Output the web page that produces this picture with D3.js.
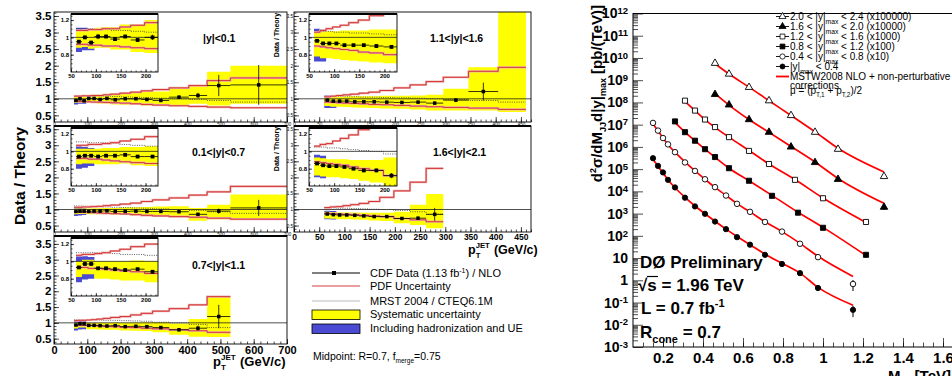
<!DOCTYPE html>
<html>
<head>
<meta charset="utf-8">
<script src="https://cdn.jsdelivr.net/npm/d3@7"></script>
<style>
  body { margin: 0; background: #fff; }
  svg { display: block; font-family: "Liberation Sans", Arial, Helvetica, sans-serif; }
</style>
</head>
<body>
<svg id="chart" width="952" height="376"></svg>
<script>
// ---------- CDF data / theory (bin edges in pT, GeV/c) ----------
const ptEdges = [60, 72, 84, 97, 112, 129, 148, 170, 198, 230, 262, 296, 346, 405, 460, 530, 700];

// |y|<0.1
const y01Val   = [0.95, 1.00, 0.94, 1.01, 1.01, 0.98, 1.01, 0.97, 1.00, 1.00, 0.98, 0.95, 1.05, 1.10, 1.40, 1.42];
const y01Err   = [0.02, 0.02, 0.02, 0.03, 0.02, 0.02, 0.02, 0.02, 0.03, 0.02, 0.02, 0.03, 0.04, 0.08, 0.32, 0.60];
const y01SysHi = [1.08, 1.09, 1.09, 1.11, 1.12, 1.12, 1.15, 1.15, 1.20, 1.20, 1.22, 1.22, 1.30, 1.42, 1.82, 2.00];
const y01SysLo = [0.88, 0.89, 0.87, 0.88, 0.88, 0.86, 0.86, 0.83, 0.82, 0.82, 0.80, 0.78, 0.80, 0.85, 0.80, 0.85];
const y01HadHi = [1.11, 1.11, 1.10];
const y01HadLo = [0.83, 0.85, 0.85];
const y01PdfHi = [1.08, 1.08, 1.09, 1.09, 1.10, 1.10, 1.12, 1.14, 1.17, 1.20, 1.24, 1.28, 1.33, 1.40, 1.55, 1.63];
const y01PdfLo = [0.92, 0.92, 0.91, 0.91, 0.90, 0.90, 0.89, 0.88, 0.87, 0.85, 0.83, 0.81, 0.79, 0.77, 0.75, 0.73];
const y01Mrst  = [1.10, 1.10, 1.10, 1.09, 1.09, 1.08, 1.08, 1.07, 1.06, 1.05, 1.04, 1.02, 1.00, 0.98, 0.95, 0.90];

// 0.1<|y|<0.7
const y07Val   = [0.94, 0.95, 0.95, 0.94, 0.95, 0.95, 0.96, 0.94, 0.94, 0.95, 0.94, 0.94, 0.93, 0.85, 0.95, 1.05];
const y07Err   = [0.01, 0.01, 0.01, 0.01, 0.01, 0.01, 0.01, 0.01, 0.01, 0.01, 0.02, 0.02, 0.03, 0.04, 0.08, 0.25];
const y07SysHi = [1.03, 1.03, 1.03, 1.03, 1.04, 1.04, 1.05, 1.05, 1.06, 1.07, 1.08, 1.09, 1.10, 1.05, 1.15, 1.47];
const y07SysLo = [0.85, 0.86, 0.86, 0.85, 0.85, 0.85, 0.86, 0.84, 0.83, 0.82, 0.80, 0.79, 0.77, 0.65, 0.70, 0.68];
const y07HadHi = [1.06, 1.05, 1.04];
const y07HadLo = [0.80, 0.81, 0.83];
const y07PdfHi = [1.07, 1.07, 1.08, 1.08, 1.09, 1.10, 1.12, 1.14, 1.17, 1.20, 1.25, 1.30, 1.36, 1.45, 1.55, 1.72];
const y07PdfLo = [0.92, 0.92, 0.91, 0.91, 0.90, 0.89, 0.88, 0.87, 0.86, 0.84, 0.82, 0.80, 0.78, 0.76, 0.73, 0.70];
const y07Mrst  = [1.11, 1.11, 1.10, 1.10, 1.10, 1.09, 1.08, 1.07, 1.06, 1.05, 1.04, 1.02, 1.00, 0.97, 0.93, 0.88];

// 0.7<|y|<1.1
const y11Val   = [0.93, 0.97, 0.97, 0.92, 0.92, 0.91, 0.90, 0.91, 0.88, 0.89, 0.88, 0.85, 0.78, 0.83, 1.20];
const y11Err   = [0.01, 0.01, 0.01, 0.01, 0.01, 0.01, 0.01, 0.01, 0.02, 0.02, 0.02, 0.03, 0.04, 0.08, 0.37];
const y11SysHi = [1.00, 1.02, 1.02, 1.00, 1.00, 1.00, 1.00, 1.01, 1.00, 1.01, 1.02, 1.02, 0.98, 1.12, 1.85];
const y11SysLo = [0.82, 0.85, 0.85, 0.80, 0.80, 0.79, 0.78, 0.78, 0.76, 0.75, 0.74, 0.70, 0.62, 0.56, 0.55];
const y11HadHi = [1.06, 1.06, 1.05];
const y11HadLo = [0.76, 0.79, 0.80];
const y11PdfHi = [1.07, 1.08, 1.08, 1.09, 1.10, 1.12, 1.14, 1.17, 1.20, 1.25, 1.30, 1.37, 1.45, 1.57, 1.83];
const y11PdfLo = [0.93, 0.93, 0.92, 0.92, 0.91, 0.90, 0.89, 0.88, 0.86, 0.85, 0.83, 0.81, 0.78, 0.75, 0.70];
const y11Mrst  = [1.10, 1.10, 1.10, 1.10, 1.10, 1.09, 1.08, 1.08, 1.07, 1.06, 1.05, 1.02, 1.00, 0.95, 0.85];

// 1.1<|y|<1.6  (last bin has no visible point)
const y16Val   = [0.96, 0.93, 0.93, 0.93, 0.91, 0.91, 0.91, 0.90, 0.89, 0.90, 0.87, 0.96, 1.22];
const y16Err   = [0.01, 0.01, 0.01, 0.01, 0.01, 0.01, 0.01, 0.02, 0.02, 0.02, 0.04, 0.06, 0.27];
const y16SysHi = [1.07, 1.07, 1.07, 1.07, 1.08, 1.08, 1.08, 1.09, 1.09, 1.10, 1.12, 1.30, 1.95, 4.00];
const y16SysLo = [0.78, 0.76, 0.76, 0.75, 0.74, 0.73, 0.72, 0.71, 0.70, 0.68, 0.65, 0.65, 0.65, 0.60];
const y16HadHi = [1.10, 1.09];
const y16HadLo = [0.72, 0.72];
const y16PdfHi = [1.06, 1.08, 1.10, 1.12, 1.14, 1.17, 1.20, 1.25, 1.33, 1.42, 1.52, 1.65, 1.83, 1.95];
const y16PdfLo = [0.90, 0.89, 0.88, 0.87, 0.86, 0.85, 0.83, 0.82, 0.80, 0.78, 0.76, 0.74, 0.72, 0.68];
const y16Mrst  = [1.07, 1.07, 1.07, 1.06, 1.06, 1.05, 1.05, 1.04, 1.03, 1.02, 1.00, 0.98, 0.95, 0.90];

// 1.6<|y|<2.1
const y21Val   = [0.86, 0.84, 0.83, 0.83, 0.82, 0.80, 0.78, 0.78, 0.72, 0.73, 0.85];
const y21Err   = [0.01, 0.01, 0.01, 0.01, 0.01, 0.01, 0.02, 0.02, 0.03, 0.05, 0.20];
const y21SysHi = [0.93, 0.92, 0.91, 0.91, 0.91, 0.90, 0.90, 0.90, 0.93, 1.15, 1.48];
const y21SysLo = [0.72, 0.71, 0.70, 0.70, 0.69, 0.68, 0.66, 0.64, 0.57, 0.52, 0.42];
const y21HadHi = [0.96, 0.95];
const y21HadLo = [0.70, 0.69];
const y21PdfHi = [1.06, 1.08, 1.09, 1.12, 1.15, 1.19, 1.25, 1.38, 1.58, 1.85, 2.28];
const y21PdfLo = [0.88, 0.87, 0.86, 0.85, 0.84, 0.82, 0.80, 0.78, 0.72, 0.68, 0.62];
const y21Mrst  = [1.05, 1.05, 1.04, 1.04, 1.03, 1.02, 1.01, 1.00, 0.97, 0.93, 0.85];

// ---------- D0 dijet mass spectrum (M_JJ in TeV, pb/TeV, scaled as plotted) ----------
const mjjLow  = [0.150, 0.175, 0.200, 0.225, 0.260, 0.310, 0.360, 0.410, 0.460, 0.515, 0.570, 0.635, 0.710, 0.795, 0.885, 0.975, 1.150];
const sigY04  = [3.1e5, 1.4e5, 7.1e4, 3.3e4, 1.5e4, 5.2e3, 2.1e3, 9.8e2, 4.4e2, 2.0e2, 8.7e1, 4.0e1, 1.4e1, 5.4, 2.1, 0.45, 0.047];
const nloY04  = [2.8e5, 1.35e5, 6.8e4, 3.3e4, 1.45e4, 5.4e3, 2.2e3, 9.8e2, 4.5e2, 2.0e2, 9.3e1, 4.0e1, 1.5e1, 5.8, 2.1, 0.48, 0.076];
const sigY08  = [1.2e7, 5.4e6, 2.5e6, 1.3e6, 5.8e5, 2.0e5, 8.3e4, 3.5e4, 1.55e4, 6.5e3, 2.75e3, 1.2e3, 4.2e2, 1.55e2, 4.4e1, 1.1e1, 0.68];
const nloY08  = [1.1e7, 5.2e6, 2.5e6, 1.26e6, 5.8e5, 2.1e5, 8.3e4, 3.5e4, 1.5e4, 6.6e3, 2.8e3, 1.2e3, 4.3e2, 1.55e2, 4.6e1, 1.2e1, 1.5];
const mjjMid  = [0.260, 0.310, 0.360, 0.410, 0.460, 0.530, 0.630, 0.745, 0.875, 1.000, 1.215];
const sigY12  = [1.4e7, 4.6e6, 1.9e6, 7.9e5, 3.5e5, 1.1e5, 3.0e4, 6.3e3, 1.1e3, 2.3e2, 1.4e1];
const nloY12  = [1.26e7, 4.6e6, 1.9e6, 7.9e5, 3.4e5, 1.1e5, 3.0e4, 6.6e3, 1.15e3, 2.4e2, 1.3e1];
const mjjY16  = [0.310, 0.360, 0.410, 0.460, 0.530, 0.630, 0.730, 0.860, 1.000, 1.215];
const sigY16  = [1.2e8, 4.3e7, 1.7e7, 7.8e6, 2.75e6, 6.6e5, 1.7e5, 3.3e4, 4.9e3, 4.2e2];
const nloY16  = [1.1e8, 4.3e7, 1.7e7, 7.6e6, 2.75e6, 6.9e5, 1.7e5, 3.4e4, 5.0e3, 4.0e2];
const mjjHigh = [0.460, 0.530, 0.630, 0.730, 0.840, 0.960, 1.075, 1.305];
const sigY20  = [2.3e8, 7.8e7, 1.7e7, 4.6e6, 1.0e6, 2.0e5, 3.5e4, 1.95e3];
const nloY20  = [2.5e8, 7.6e7, 1.7e7, 4.5e6, 1.05e6, 2.1e5, 3.8e4, 2.9e3];
const sigY24  = [5.8e9, 1.9e9, 4.8e8, 1.2e8, 2.6e7, 4.6e6, 7.9e5, 4.7e4];
const nloY24  = [5.5e9, 1.9e9, 4.9e8, 1.2e8, 2.6e7, 4.8e6, 8.7e5, 7.5e4];
// error on the last point of each series, same order as the legend (2.0-2.4 first)
const d0LastErr = [4000, 500, 20, 3, 0.35, 0.025];

const d0LegendPre  = ['2.0 < |y|', '1.6 < |y|', '1.2 < |y|', '0.8 < |y|', '0.4 < |y|', '|y|'];
const d0LegendPost = [' < 2.4 (x100000)', ' < 2.0 (x10000)', ' < 1.6 (x1000)', ' < 1.2 (x100)', ' < 0.8 (x10)', ' < 0.4'];

// ---------- drawing ----------
const svg = d3.select('#chart');
const YELLOW = '#ffff00', BLUE = '#4a4ad2', RED = '#d02828', PINK = '#eeb0b0';

function styleAxis(sel, size, bold) {
  sel.select('.domain').remove();
  sel.attr('font-family', null).attr('font-size', null);
  sel.selectAll('.tick line').attr('stroke', '#000').attr('stroke-width', 0.7);
  sel.selectAll('.tick text').attr('font-size', size).attr('font-weight', bold ? 'bold' : 'normal').attr('fill', '#000');
}

function stepPts(vals) {
  return vals.map((v, i) => [ptEdges[i], v]).concat([[ptEdges[vals.length], vals[vals.length - 1]]]);
}
function bandPts(hi, lo) {
  return hi.map((h, i) => [ptEdges[i], lo[i], h]).concat([[ptEdges[hi.length], lo[hi.length - 1], hi[hi.length - 1]]]);
}

function drawHist(g, x, y, p, xr, ms) {
  const area = d3.area().x(d => x(d[0])).y0(d => y(d[1])).y1(d => y(d[2])).curve(d3.curveStepAfter);
  const line = d3.line().x(d => x(d[0])).y(d => y(d[1])).curve(d3.curveStepAfter);

  g.append('path').attr('d', area(bandPts(p.hadHi, p.hadLo))).attr('fill', BLUE);
  g.append('path').attr('d', area(bandPts(p.sysHi, p.sysLo))).attr('fill', YELLOW);

  g.append('line')
    .attr('x1', xr[0]).attr('x2', xr[1]).attr('y1', y(1)).attr('y2', y(1))
    .attr('stroke', '#222').attr('stroke-width', 0.8);

  g.append('path').attr('d', line(stepPts(p.mrst)))
    .attr('fill', 'none').attr('stroke', '#333').attr('stroke-width', 0.8).attr('stroke-dasharray', '1,1.3');

  [p.pdfHi, p.pdfLo].forEach(arr => {
    g.append('path').attr('d', line(stepPts(arr))).attr('fill', 'none').attr('stroke', PINK).attr('stroke-width', 2.2);
    g.append('path').attr('d', line(stepPts(arr))).attr('fill', 'none').attr('stroke', RED).attr('stroke-width', 0.9);
  });

  const pts = p.val.map((v, i) => ({ lo: ptEdges[i], hi: ptEdges[i + 1], v, e: p.err[i] }));
  const pg = g.append('g').selectAll('g').data(pts).join('g');
  pg.append('line')
    .attr('x1', d => x(d.lo)).attr('x2', d => x(d.hi))
    .attr('y1', d => y(d.v)).attr('y2', d => y(d.v))
    .attr('stroke', '#000').attr('stroke-width', 0.8);
  pg.append('line')
    .attr('x1', d => x((d.lo + d.hi) / 2)).attr('x2', d => x((d.lo + d.hi) / 2))
    .attr('y1', d => y(d.v - d.e)).attr('y2', d => y(d.v + d.e))
    .attr('stroke', '#000').attr('stroke-width', 0.8);
  pg.append('rect')
    .attr('x', d => x((d.lo + d.hi) / 2) - ms / 2).attr('y', d => y(d.v) - ms / 2)
    .attr('width', ms).attr('height', ms).attr('fill', '#000');
}

const cdfPanels = [
  { label: '|y|<0.1', lx: 203, ly: 42, frame: [54, 287, 12, 122], yDom: [0.3, 3.62], xDom: [0, 700], inset: [71, 158, 14, 72],
    val: y01Val, err: y01Err, sysHi: y01SysHi, sysLo: y01SysLo, hadHi: y01HadHi, hadLo: y01HadLo, pdfHi: y01PdfHi, pdfLo: y01PdfLo, mrst: y01Mrst, col: 'L', bottom: 'tiny' },
  { label: '0.1<|y|<0.7', lx: 192, ly: 156, frame: [54, 287, 126, 232], yDom: [0.3, 3.6], xDom: [0, 700], inset: [71, 158, 128, 186],
    val: y07Val, err: y07Err, sysHi: y07SysHi, sysLo: y07SysLo, hadHi: y07HadHi, hadLo: y07HadLo, pdfHi: y07PdfHi, pdfLo: y07PdfLo, mrst: y07Mrst, col: 'L', bottom: 'tiny' },
  { label: '0.7<|y|<1.1', lx: 192, ly: 269, frame: [54, 287, 236, 344], yDom: [0.33, 3.75], xDom: [0, 700], inset: [71, 158, 238, 296],
    val: y11Val, err: y11Err, sysHi: y11SysHi, sysLo: y11SysLo, hadHi: y11HadHi, hadLo: y11HadLo, pdfHi: y11PdfHi, pdfLo: y11PdfLo, mrst: y11Mrst, col: 'L', bottom: 'big' },
  { label: '1.1<|y|<1.6', lx: 430, ly: 42, frame: [294, 531, 12, 122], yDom: [0.3, 3.62], xDom: [0, 470], inset: [309, 397, 14, 72],
    val: y16Val, err: y16Err, sysHi: y16SysHi, sysLo: y16SysLo, hadHi: y16HadHi, hadLo: y16HadLo, pdfHi: y16PdfHi, pdfLo: y16PdfLo, mrst: y16Mrst, col: 'R', bottom: 'tiny' },
  { label: '1.6<|y|<2.1', lx: 433, ly: 156, frame: [294, 531, 126, 232], yDom: [0.3, 3.6], xDom: [0, 470], inset: [309, 397, 128, 186],
    val: y21Val, err: y21Err, sysHi: y21SysHi, sysLo: y21SysLo, hadHi: y21HadHi, hadLo: y21HadLo, pdfHi: y21PdfHi, pdfLo: y21PdfLo, mrst: y21Mrst, col: 'R', bottom: 'mid' }
];

const fmt = d3.format('~g');

cdfPanels.forEach((p, k) => {
  const [x0, x1, y0, y1] = p.frame;
  const x = d3.scaleLinear().domain(p.xDom).range([x0, x1]);
  const y = d3.scaleLinear().domain(p.yDom).range([y1, y0]);
  const g = svg.append('g');

  g.append('clipPath').attr('id', 'clipP' + k)
    .append('rect').attr('x', x0).attr('y', y0).attr('width', x1 - x0).attr('height', y1 - y0);
  drawHist(g.append('g').attr('clip-path', `url(#clipP${k})`), x, y, p, [x0, x1], 3.5);

  // y axis
  const yMaj = [0.5, 1, 1.5, 2, 2.5, 3, 3.5];
  const yMin = d3.range(4, 37).map(v => v / 10).filter(v => v <= p.yDom[1]);
  const left = p.col === 'L';
  g.append('g').attr('transform', `translate(${x0},0)`)
    .call(d3.axisLeft(y).tickValues(yMin).tickSize(-2.5).tickFormat(''))
    .call(s => styleAxis(s, 4, false));
  g.append('g').attr('transform', `translate(${x0},0)`)
    .call(d3.axisLeft(y).tickValues(yMaj).tickSize(-5).tickPadding(left ? 2.5 : 1).tickFormat(fmt))
    .call(s => styleAxis(s, left ? 11.5 : 4.5, left));

  // x axis
  const step = left ? 100 : 50;
  const xMaj = d3.range(0, p.xDom[1] + 1, step);
  const xMin = d3.range(0, p.xDom[1] + 1, left ? 20 : 10);
  const xs = { tiny: [4.5, false, 1], big: [11, true, 2.5], mid: [8.5, true, 2] }[p.bottom];
  g.append('g').attr('transform', `translate(0,${y1})`)
    .call(d3.axisBottom(x).tickValues(xMin).tickSize(-2.5).tickFormat(''))
    .call(s => styleAxis(s, 4, false));
  g.append('g').attr('transform', `translate(0,${y1})`)
    .call(d3.axisBottom(x).tickValues(xMaj).tickSize(-5).tickPadding(xs[2]).tickFormat(fmt))
    .call(s => styleAxis(s, xs[0], xs[1]));

  g.append('rect').attr('x', x0).attr('y', y0).attr('width', x1 - x0).attr('height', y1 - y0)
    .attr('fill', 'none').attr('stroke', '#000').attr('stroke-width', 0.9);
  if (k !== 0 && k !== 3) {
    g.append('line').attr('x1', x0).attr('x2', x1).attr('y1', y0).attr('y2', y0).attr('stroke', '#000').attr('stroke-width', 2);
  }

  // inset
  const [ix0, ix1, iy0, iy1] = p.inset;
  const ix = d3.scaleLinear().domain([50, 225]).range([ix0, ix1]);
  const iy = d3.scaleLinear().domain([0.6, 1.27]).range([iy1, iy0]);
  g.append('rect').attr('x', ix0).attr('y', iy0).attr('width', ix1 - ix0).attr('height', iy1 - iy0).attr('fill', '#fff');
  g.append('clipPath').attr('id', 'clipI' + k)
    .append('rect').attr('x', ix0).attr('y', iy0).attr('width', ix1 - ix0).attr('height', iy1 - iy0);
  drawHist(g.append('g').attr('clip-path', `url(#clipI${k})`), ix, iy, p, [ix0, ix1], 3.8);

  g.append('g').attr('transform', `translate(${ix0},0)`)
    .call(d3.axisLeft(iy).tickValues(d3.range(13, 26).map(v => v / 20)).tickSize(-1.5).tickFormat(''))
    .call(s => styleAxis(s, 4, false));
  g.append('g').attr('transform', `translate(${ix0},0)`)
    .call(d3.axisLeft(iy).tickValues([0.8, 1, 1.2]).tickSize(-3).tickPadding(2).tickFormat(fmt))
    .call(s => styleAxis(s, 6, true));
  g.append('g').attr('transform', `translate(0,${iy1})`)
    .call(d3.axisBottom(ix).tickValues(d3.range(50, 226, 10)).tickSize(-1.5).tickFormat(''))
    .call(s => styleAxis(s, 4, false));
  g.append('g').attr('transform', `translate(0,${iy1})`)
    .call(d3.axisBottom(ix).tickValues([50, 100, 150, 200]).tickSize(-3).tickPadding(1.5).tickFormat(fmt))
    .call(s => styleAxis(s, 6, true));
  g.append('rect').attr('x', ix0).attr('y', iy0).attr('width', ix1 - ix0).attr('height', iy1 - iy0)
    .attr('fill', 'none').attr('stroke', '#000').attr('stroke-width', 0.9);
  g.append('line').attr('x1', ix0).attr('x2', ix1).attr('y1', iy0).attr('y2', iy0).attr('stroke', '#000').attr('stroke-width', 1.8);

  g.append('text').attr('x', p.lx).attr('y', p.ly).attr('font-size', 10.5).attr('font-weight', 'bold').text(p.label);
});

// axis titles of the CDF figure
svg.append('text').attr('transform', 'translate(25,176) rotate(-90)').attr('text-anchor', 'middle')
  .attr('font-size', 15.5).attr('font-weight', 'bold').text('Data / Theory');
[35, 149].forEach(cy => {
  svg.append('text').attr('transform', `translate(279,${cy}) rotate(-90)`).attr('text-anchor', 'middle')
    .attr('font-size', 7).attr('font-weight', 'bold').text('Data / Theory');
});

function ptTitle(x, yb, size) {
  const s = size / 13;
  svg.append('text').attr('x', x).attr('y', yb).attr('font-size', size).attr('font-weight', 'bold').text('p');
  svg.append('text').attr('x', x + 8 * s).attr('y', yb - 6 * s).attr('font-size', 8 * s).attr('font-weight', 'bold').text('JET');
  svg.append('text').attr('x', x + 8 * s).attr('y', yb + 4 * s).attr('font-size', 8 * s).attr('font-weight', 'bold').text('T');
  svg.append('text').attr('x', x + 27 * s).attr('y', yb).attr('font-size', size).attr('font-weight', 'bold').text('(GeV/c)');
}
ptTitle(213, 366, 13);
ptTitle(468, 254, 12.5);

// CDF legend
const leg = svg.append('g').attr('font-size', 11);
leg.append('line').attr('x1', 312).attr('x2', 360).attr('y1', 273).attr('y2', 273).attr('stroke', '#555').attr('stroke-width', 1.4);
leg.append('rect').attr('x', 332).attr('y', 271).attr('width', 4).attr('height', 4).attr('fill', '#000');
const t1 = leg.append('text').attr('x', 370).attr('y', 277);
t1.append('tspan').text('CDF Data (1.13 fb');
t1.append('tspan').attr('font-size', 7).attr('dy', -4).text('-1');
t1.append('tspan').attr('dy', 4).text(') / NLO');
leg.append('line').attr('x1', 312).attr('x2', 360).attr('y1', 286).attr('y2', 286).attr('stroke', RED).attr('stroke-width', 0.9);
leg.append('text').attr('x', 370).attr('y', 290).text('PDF Uncertainty');
leg.append('line').attr('x1', 312).attr('x2', 360).attr('y1', 301).attr('y2', 301).attr('stroke', '#aaa').attr('stroke-width', 0.8);
leg.append('text').attr('x', 370).attr('y', 305).text('MRST 2004 / CTEQ6.1M');
leg.append('rect').attr('x', 312).attr('y', 310).attr('width', 48).attr('height', 9.5).attr('fill', YELLOW).attr('stroke', '#000').attr('stroke-width', 0.8);
leg.append('text').attr('x', 370).attr('y', 318).text('Systematic uncertainty');
leg.append('rect').attr('x', 312).attr('y', 324).attr('width', 48).attr('height', 9.5).attr('fill', BLUE).attr('stroke', '#000').attr('stroke-width', 0.8);
leg.append('text').attr('x', 370).attr('y', 332).text('Including hadronization and UE');
const mp = svg.append('text').attr('x', 313).attr('y', 360).attr('font-size', 10.5);
mp.append('tspan').text('Midpoint:  R=0.7,  f');
mp.append('tspan').attr('font-size', 6.5).attr('dy', 3).text('merge');
mp.append('tspan').attr('dy', -3).text('=0.75');

// ---------- D0 panel ----------
const dx0 = 633, dx1 = 953, dy0 = 13.5, dy1 = 347;
const xD = d3.scaleLinear().domain([0.05, 1.65]).range([dx0, dx1]);
const yD = d3.scaleLog().domain([1e-3, 1e12]).range([dy1, dy0]);
const gD = svg.append('g');

const yMajD = d3.range(-3, 13).map(e => Math.pow(10, e));
const yMinD = [];
d3.range(-3, 12).forEach(e => d3.range(2, 10).forEach(m => yMinD.push(m * Math.pow(10, e))));
gD.append('g').attr('transform', `translate(${dx0},0)`)
  .call(d3.axisLeft(yD).tickValues(yMinD).tickSize(-5).tickFormat(''))
  .call(s => styleAxis(s, 4, false));
gD.append('g').attr('transform', `translate(${dx0},0)`)
  .call(d3.axisLeft(yD).tickValues(yMajD).tickSize(-10).tickPadding(5).tickFormat(''))
  .call(s => styleAxis(s, 14, true))
  .call(s => s.selectAll('.tick text').each(function (d) {
    const e = Math.round(Math.log10(d));
    const t = d3.select(this);
    if (e === 0) t.text('1');
    else if (e === 1) t.text('10');
    else {
      t.append('tspan').text('10');
      t.append('tspan').attr('font-size', 9.5).attr('dy', '-0.45em').text(e);
    }
  }));

const xMajD = [0.2, 0.4, 0.6, 0.8, 1.0, 1.2, 1.4, 1.6];
const xMinD = d3.range(2, 33).map(i => i * 0.05);
gD.append('g').attr('transform', `translate(0,${dy1})`)
  .call(d3.axisBottom(xD).tickValues(xMinD).tickSize(-4.5).tickFormat(''))
  .call(s => styleAxis(s, 4, false));
gD.append('g').attr('transform', `translate(0,${dy1})`)
  .call(d3.axisBottom(xD).tickValues(xMajD).tickSize(-9).tickPadding(5).tickFormat(fmt))
  .call(s => styleAxis(s, 15, true));

gD.append('rect').attr('x', dx0).attr('y', dy0).attr('width', dx1 - dx0).attr('height', dy1 - dy0)
  .attr('fill', 'none').attr('stroke', '#000').attr('stroke-width', 1);

const d0Series = [
  { m: mjjHigh, sig: sigY24, nlo: nloY24, type: d3.symbolTriangle, open: true,  size: 24 },
  { m: mjjHigh, sig: sigY20, nlo: nloY20, type: d3.symbolTriangle, open: false, size: 24 },
  { m: mjjY16,  sig: sigY16, nlo: nloY16, type: d3.symbolSquare,   open: true,  size: 26 },
  { m: mjjMid,  sig: sigY12, nlo: nloY12, type: d3.symbolSquare,   open: false, size: 26 },
  { m: mjjLow,  sig: sigY08, nlo: nloY08, type: d3.symbolCircle,   open: true,  size: 24 },
  { m: mjjLow,  sig: sigY04, nlo: nloY04, type: d3.symbolCircle,   open: false, size: 22 }
];

const nloLine = d3.line().x(d => xD(d[0])).y(d => yD(d[1])).curve(d3.curveMonotoneX);
d0Series.forEach(s => {
  gD.append('path').attr('d', nloLine(s.m.map((m, i) => [m, s.nlo[i]])))
    .attr('fill', 'none').attr('stroke', '#ff0000').attr('stroke-width', 1.7);
});
d0Series.forEach((s, k) => {
  const last = s.m.length - 1;
  const e = d0LastErr[k];
  gD.append('line').attr('x1', xD(s.m[last])).attr('x2', xD(s.m[last]))
    .attr('y1', yD(s.sig[last] - e)).attr('y2', yD(s.sig[last] + e)).attr('stroke', '#000').attr('stroke-width', 1);
  gD.append('g').selectAll('path').data(s.m.map((m, i) => [m, s.sig[i]])).join('path')
    .attr('transform', d => `translate(${xD(d[0])},${yD(d[1])})`)
    .attr('d', d3.symbol().type(s.type).size(s.size))
    .attr('fill', s.open ? '#fff' : '#000').attr('stroke', '#000').attr('stroke-width', 0.9);
});

// D0 legend
const lg = svg.append('g').attr('font-size', 10);
d0Series.forEach((s, k) => {
  const cy = 16.5 + k * 10;
  lg.append('line').attr('x1', 776).attr('x2', 789).attr('y1', cy).attr('y2', cy).attr('stroke', '#000').attr('stroke-width', 0.9);
  lg.append('path').attr('transform', `translate(782.5,${cy})`).attr('d', d3.symbol().type(s.type).size(s.size * 0.9))
    .attr('fill', s.open ? '#fff' : '#000').attr('stroke', '#000').attr('stroke-width', 0.8);
  const t = lg.append('text').attr('x', 790).attr('y', cy + 3.6);
  t.append('tspan').text(d0LegendPre[k]);
  t.append('tspan').attr('font-size', 6.8).attr('dy', 3.5).text('max');
  t.append('tspan').attr('dy', -3.5).text(d0LegendPost[k]);
});
lg.append('line').attr('x1', 776).attr('x2', 789).attr('y1', 76.5).attr('y2', 76.5).attr('stroke', '#ff0000').attr('stroke-width', 1.8);
lg.append('text').attr('x', 790).attr('y', 80.1).text('MSTW2008 NLO + non-perturbative');
lg.append('text').attr('x', 790).attr('y', 89.3).text('corrections');
const mu = lg.append('text').attr('x', 790).attr('y', 94);
mu.append('tspan').text('\u03bc = (p');
mu.append('tspan').attr('font-size', 6.5).attr('dy', 3).text('T,1');
mu.append('tspan').attr('dy', -3).text(' + p');
mu.append('tspan').attr('font-size', 6.5).attr('dy', 3).text('T,2');
mu.append('tspan').attr('dy', -3).text(')/2');

// D0 titles and labels
const yt = svg.append('text').attr('transform', 'translate(602,5) rotate(-90)').attr('text-anchor', 'end')
  .attr('font-size', 15).attr('font-weight', 'bold');
yt.append('tspan').text('d');
yt.append('tspan').attr('font-size', 9).attr('dy', -6).text('2');
yt.append('tspan').attr('dy', 6).text('\u03c3/dM');
yt.append('tspan').attr('font-size', 9).attr('dy', 4).text('JJ');
yt.append('tspan').attr('dy', -4).text('d|y|');
yt.append('tspan').attr('font-size', 9).attr('dy', 4).text('max');
yt.append('tspan').attr('dy', -4).text(' [pb/(TeV)]');

const xt = svg.append('text').attr('x', 951).attr('y', 381).attr('text-anchor', 'end').attr('font-size', 15).attr('font-weight', 'bold');
xt.append('tspan').text('M');
xt.append('tspan').attr('font-size', 9).attr('dy', 4).text('JJ');
xt.append('tspan').attr('dy', -4).text(' [TeV]');

const d0t = svg.append('g').attr('font-size', 17).attr('font-weight', 'bold');
d0t.append('text').attr('x', 640).attr('y', 268).text('D\u00d8 Preliminary');
d0t.append('text').attr('x', 638).attr('y', 291).text('\u221as = 1.96 TeV');
d0t.append('line').attr('x1', 647).attr('x2', 658).attr('y1', 276.5).attr('y2', 276.5).attr('stroke', '#000').attr('stroke-width', 1.2);
const lt = d0t.append('text').attr('x', 641).attr('y', 314);
lt.append('tspan').text('L = 0.7 fb');
lt.append('tspan').attr('font-size', 11).attr('dy', -7).text('-1');
const rt = d0t.append('text').attr('x', 640).attr('y', 338);
rt.append('tspan').text('R');
rt.append('tspan').attr('font-size', 11).attr('dy', 5).text('cone');
rt.append('tspan').attr('dy', -5).text(' = 0.7');
</script>
</body>
</html>
